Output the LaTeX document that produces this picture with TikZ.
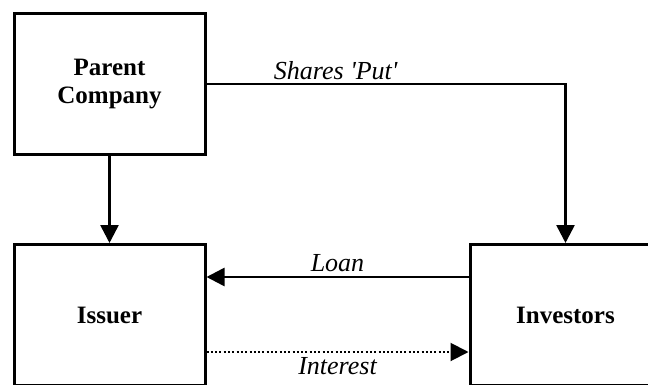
\documentclass[tikz,border=0pt]{standalone}
\usepackage{fontspec}
\setmainfont{Liberation Serif}
\newfontfamily\labelfont{Liberation Serif}
\usetikzlibrary{arrows.meta, positioning}

\begin{document}
\begin{tikzpicture}[>={Triangle[length=18pt,width=18pt]},node distance=87pt,
  party/.style={draw, line width=3pt, minimum width=191pt, minimum height=141pt,
    align=center, font=\fontsize{25}{28}\selectfont\bfseries},
  flow/.style={line width=2.6pt},
  flowlabel/.style={font=\labelfont\fontsize{26}{28}\selectfont\itshape}]
\useasboundingbox (0,0) rectangle (648pt,-385pt);

% define the parties
  \node[party]   (parent) at (109.5pt,-84pt)
{Parent\\Company};
  \node[party]   (issuer)    [below=of parent]
{Issuer};
  \node[party]   (investors) [right=262pt of issuer]
{Investors};

% define the flows
  \draw[flow,->] (parent) -- (issuer);
  \draw[flow,->] (parent.east) -| node[flowlabel, pos=0.18, above, inner sep=3pt] {Shares 'Put'} (investors.north);
  \draw[flow,->] ([yshift=38pt]investors.west) -- node[flowlabel, above, inner sep=4pt] {Loan} ([yshift=38pt]issuer.east);
  \draw[flow,->,line width=2pt,dash pattern=on 2pt off 2.3pt] ([yshift=-37pt]issuer.east) -- node[flowlabel, below, inner sep=4pt] {Interest} ([yshift=-37pt]investors.west);

\end{tikzpicture}
\end{document}
